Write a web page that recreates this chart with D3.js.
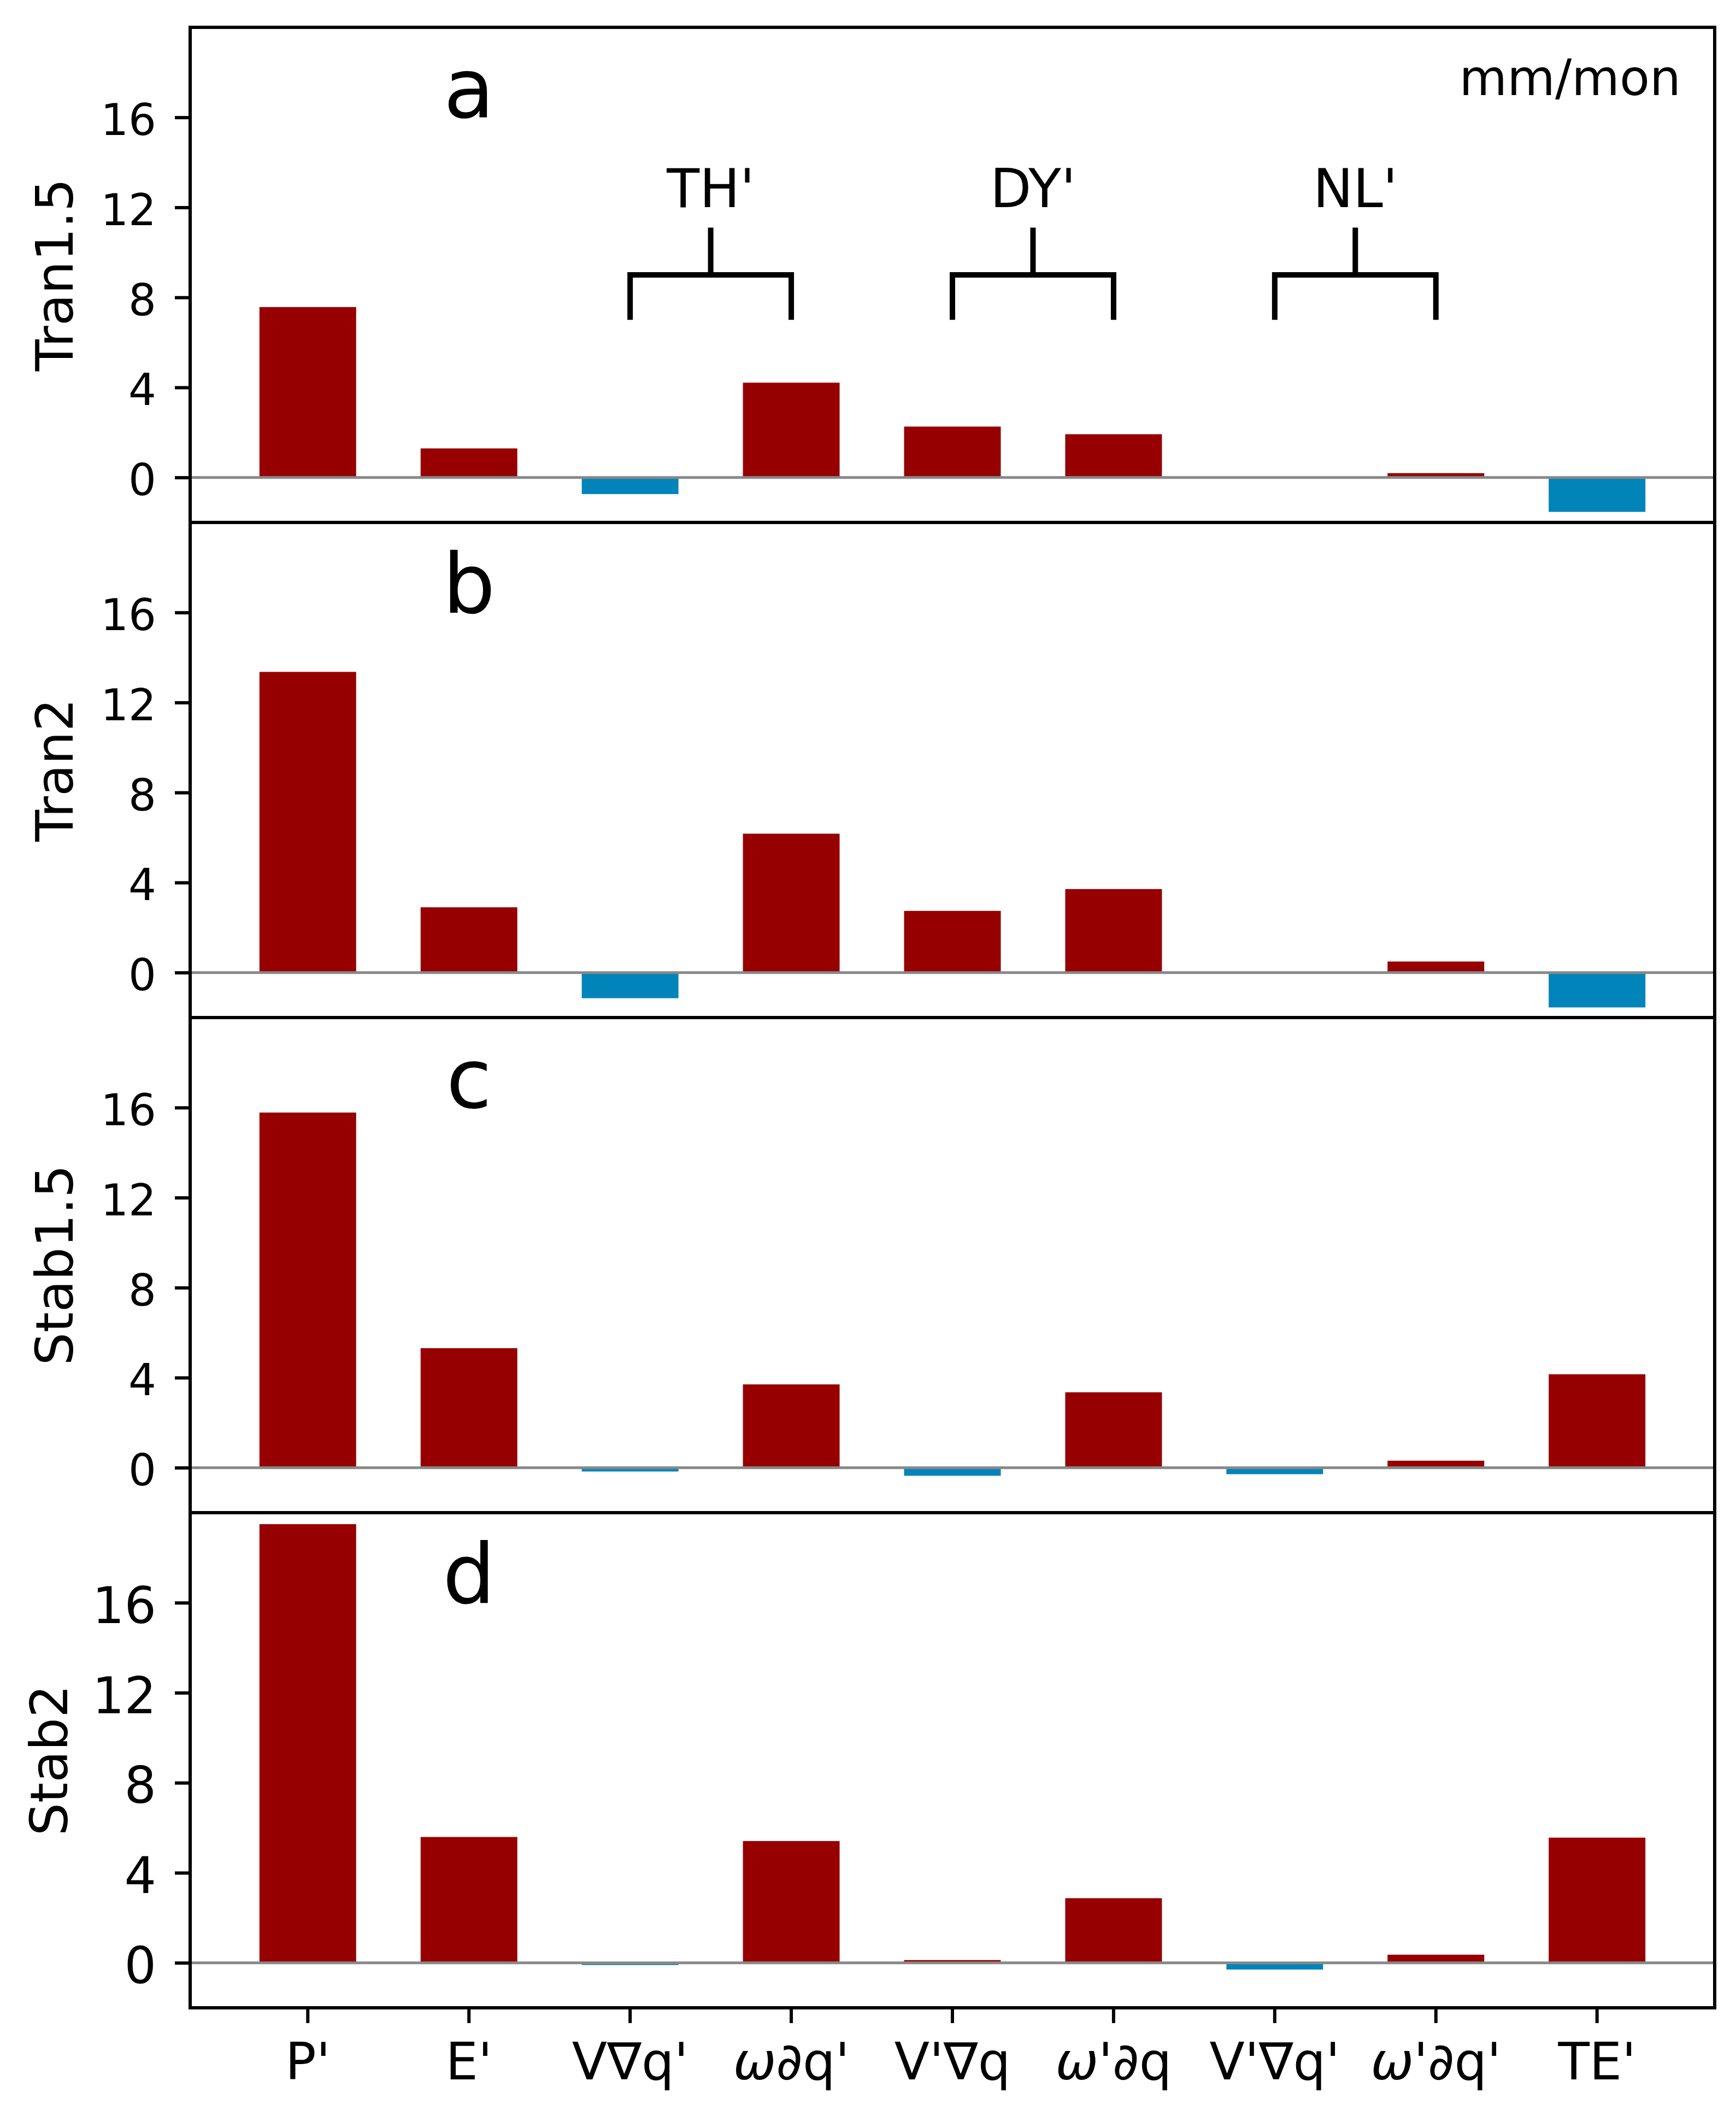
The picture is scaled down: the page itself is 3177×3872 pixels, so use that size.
<!DOCTYPE html>
<html>
<head>
<meta charset="utf-8">
<script src="https://cdn.jsdelivr.net/npm/d3@7"></script>
<style>
  body { margin: 0; background: #fff; }
  text { font-family: 'DejaVu Sans', sans-serif; }
</style>
</head>
<body>
<div id="chart"></div>
<script>
// terms of the moisture budget, one bar each
const categories = ["P'", "E'", "V∇q'", "ω∂q'", "V'∇q", "ω'∂q", "V'∇q'", "ω'∂q'", "TE'"]

// values per panel, mm/mon
const tran15 = [7.57, 1.29, -0.74, 4.21, 2.26, 1.92, 0.0, 0.19, -1.53]
const tran2 = [13.36, 2.9, -1.14, 6.17, 2.74, 3.71, 0.0, 0.49, -1.55]
const stab15 = [15.78, 5.31, -0.17, 3.7, -0.36, 3.35, -0.29, 0.31, 4.15]
const stab2 = [19.49, 5.59, -0.1, 5.41, 0.12, 2.87, -0.3, 0.36, 5.56]

const panelNames = ['Tran1.5', 'Tran2', 'Stab1.5', 'Stab2']
const panelLetters = ['a', 'b', 'c', 'd']
const yTicks = [0, 4, 8, 12, 16]

// brackets over panel a: label and the two categories joined
const groups = [
  { label: "TH'", from: 2, to: 3 },
  { label: "DY'", from: 4, to: 5 },
  { label: "NL'", from: 6, to: 7 },
]

const series = [tran15, tran2, stab15, stab2]

const width = 3177
const height = 3872
const marginLeft = 348
const marginRight = width - 3138
const panelTop = 50
const panelHeight = 906

const posColor = '#960000'
const negColor = '#0084b9'

const svg = d3
  .select('#chart')
  .append('svg')
  .attr('width', width)
  .attr('height', height)
  .attr('viewBox', `0 0 ${width} ${height}`)
  .style('background', '#fff')

const x = d3
  .scaleBand()
  .domain(d3.range(categories.length))
  .range([marginLeft, width - marginRight])
  .paddingInner(0.4)
  .paddingOuter(0.43)

const xc = i => x(i) + x.bandwidth() / 2

function labelText(sel, s) {
  // omega set in italic like the mathtext original
  const parts = s.split('ω')
  parts.forEach((p, k) => {
    if (k > 0) sel.append('tspan').attr('font-style', 'italic').text('ω')
    if (p) sel.append('tspan').text(p)
  })
}

series.forEach((values, pi) => {
  const top = panelTop + pi * panelHeight
  const y = d3
    .scaleLinear()
    .domain([-2, 20])
    .range([top + panelHeight, top])

  const g = svg.append('g').attr('class', `panel-${panelLetters[pi]}`)
  const isLast = pi === series.length - 1
  const tickFont = isLast ? 92 : 80

  // bars
  g.selectAll('rect.bar')
    .data(values)
    .join('rect')
    .attr('class', 'bar')
    .attr('x', (d, i) => x(i))
    .attr('width', x.bandwidth())
    .attr('y', d => y(Math.max(0, d)))
    .attr('height', d => Math.abs(y(d) - y(0)))
    .attr('fill', d => (d >= 0 ? posColor : negColor))

  // zero line
  g.append('line')
    .attr('x1', marginLeft)
    .attr('x2', width - marginRight)
    .attr('y1', y(0))
    .attr('y2', y(0))
    .attr('stroke', '#888')
    .attr('stroke-width', 5)

  // y axis
  const yAxis = g
    .append('g')
    .attr('transform', `translate(${marginLeft},0)`)
    .call(d3.axisLeft(y).tickValues(yTicks).tickSize(28).tickPadding(34))
  yAxis.select('.domain').remove()
  yAxis.selectAll('line').attr('stroke', '#000').attr('stroke-width', 6)
  yAxis
    .selectAll('text')
    .attr('font-size', tickFont)
    .attr('font-family', 'DejaVu Sans')
    .attr('fill', '#000')
    .attr('dy', '0.4em')

  // y label
  const labelX = isLast ? 123 : 133
  g.append('text')
    .attr('transform', `translate(${labelX},${top + panelHeight / 2}) rotate(-90)`)
    .attr('text-anchor', 'middle')
    .attr('font-size', 95)
    .text(panelNames[pi])

  // panel letter
  g.append('text')
    .attr('x', xc(1))
    .attr('y', y(16))
    .attr('text-anchor', 'middle')
    .attr('font-size', 152)
    .text(panelLetters[pi])

  if (pi === 0) {
    g.append('text')
      .attr('x', xc(8) + x.step() * 0.52)
      .attr('y', y(17))
      .attr('text-anchor', 'end')
      .attr('font-size', 90)
      .text('mm/mon')

    groups.forEach(gr => {
      const x1 = xc(gr.from)
      const x2 = xc(gr.to)
      const xm = (x1 + x2) / 2
      const bracket = d3.path()
      bracket.moveTo(x1, y(7))
      bracket.lineTo(x1, y(9))
      bracket.lineTo(x2, y(9))
      bracket.lineTo(x2, y(7))
      bracket.moveTo(xm, y(9))
      bracket.lineTo(xm, y(11.1))
      g.append('path')
        .attr('d', bracket.toString())
        .attr('fill', 'none')
        .attr('stroke', '#000')
        .attr('stroke-width', 10)
      g.append('text')
        .attr('x', xm)
        .attr('y', y(12))
        .attr('text-anchor', 'middle')
        .attr('font-size', 98)
        .text(gr.label)
    })
  }

  if (isLast) {
    const xAxis = g
      .append('g')
      .attr('transform', `translate(0,${top + panelHeight})`)
      .call(
        d3
          .axisBottom(x)
          .tickSize(28)
          .tickFormat(() => ''),
      )
    xAxis.select('.domain').remove()
    xAxis.selectAll('line').attr('stroke', '#000').attr('stroke-width', 6)
    xAxis.selectAll('.tick text').remove()
    xAxis
      .selectAll('.tick')
      .append('text')
      .attr('y', 131)
      .attr('text-anchor', 'middle')
      .attr('font-size', 94)
      .attr('font-family', 'DejaVu Sans')
      .attr('fill', '#000')
      .each(function (i) {
        labelText(d3.select(this), categories[i])
      })
  }

  // frame
  g.append('rect')
    .attr('x', marginLeft)
    .attr('y', top)
    .attr('width', width - marginLeft - marginRight)
    .attr('height', panelHeight)
    .attr('fill', 'none')
    .attr('stroke', '#000')
    .attr('stroke-width', 6)
})
</script>
</body>
</html>
